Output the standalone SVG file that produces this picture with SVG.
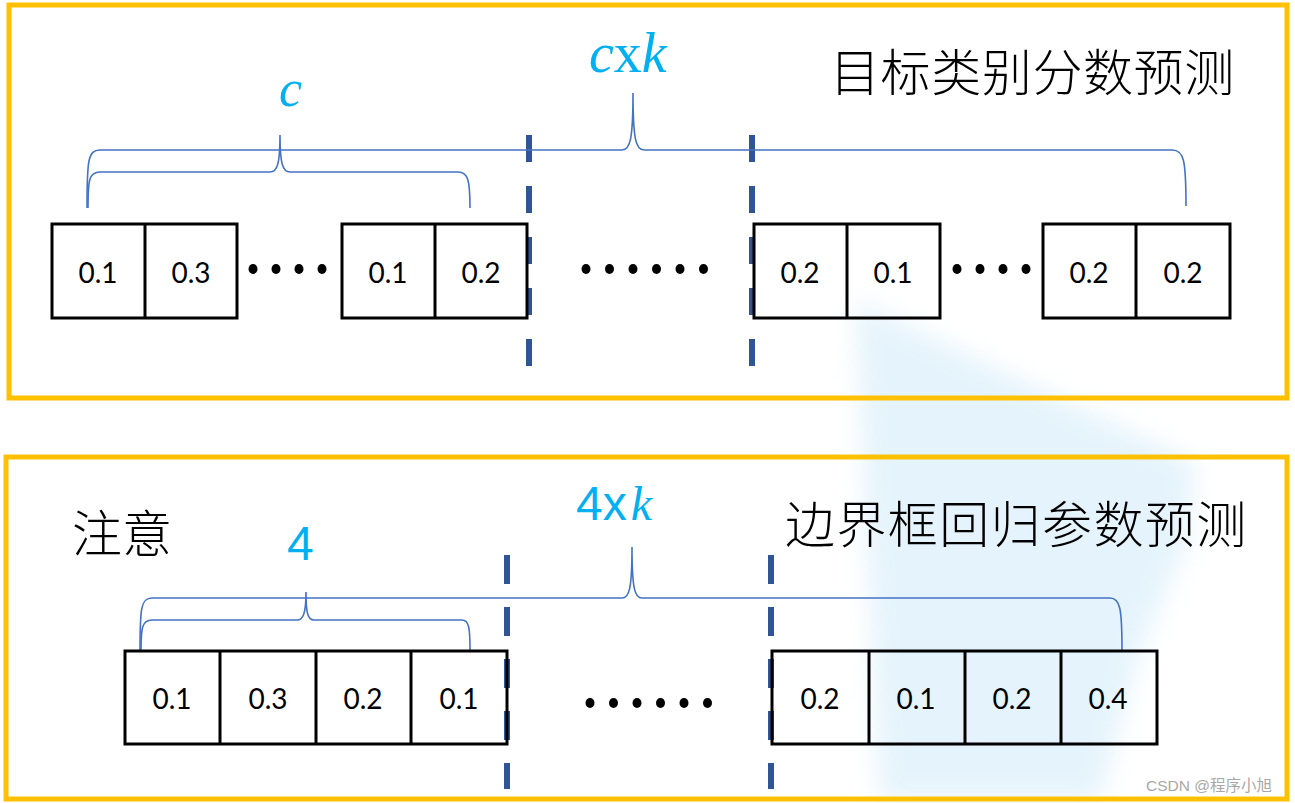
<svg xmlns="http://www.w3.org/2000/svg" width="1295" height="803" viewBox="0 0 1295 803">
<style>
.frame{fill:none;stroke:#FFC000;stroke-width:5}
.cell{fill:none;stroke:#000;stroke-width:3}
.num{font-family:Lato,"Liberation Sans",sans-serif;font-size:28px;fill:#000;text-anchor:middle}
.dot{fill:#000}
.dash{stroke:#2F5597;stroke-width:6;fill:none}
.brace{fill:none;stroke:#4472C4;stroke-width:1.6}
.zh{font-family:"Noto Sans CJK SC",sans-serif;font-size:50px;font-weight:300;fill:#000}
.mi{font-family:"Liberation Serif",serif;font-style:italic;fill:#00B0F0}
.mu{font-family:"Liberation Sans",sans-serif;fill:#00B0F0}
</style>
<defs><filter id="soft" x="-20%" y="-20%" width="140%" height="140%"><feGaussianBlur stdDeviation="12"/></filter></defs>
<rect width="1295" height="803" fill="#fff"/>
<polygon points="855,300 1010,375 1195,462 1188,540 1140,650 1100,800 880,800 868,560" fill="#DDF0FB" opacity="0.75" filter="url(#soft)"/>

<g id="frame-top"><rect class="frame" x="9" y="5" width="1278" height="393"/></g>
<g id="frame-bottom"><rect class="frame" x="6" y="457" width="1281" height="342"/></g>

<g id="title-top"><text class="zh" x="830" y="91" letter-spacing="0.6">目标类别分数预测</text></g>
<g id="title-bottom"><text class="zh" x="785" y="543" letter-spacing="1.4">边界框回归参数预测</text></g>
<g id="note"><text class="zh" x="72" y="552" font-size="49">注意</text></g>

<g id="label-c"><text class="mi" x="279" y="106" font-size="52">c</text></g>
<g id="label-cxk"><text x="589" y="72" font-size="56"><tspan class="mi">c</tspan><tspan font-family="Liberation Serif,serif" fill="#00B0F0">x</tspan><tspan class="mi">k</tspan></text></g>
<g id="label-4"><text class="mu" x="287" y="560" font-size="48">4</text></g>
<g id="label-4xk"><text x="576" y="520" font-size="48"><tspan class="mu">4</tspan><tspan class="mu">x</tspan><tspan class="mi" dx="4">k</tspan></text></g>

<g id="connectors">
<line class="dash" x1="529" y1="135" x2="529" y2="368" stroke-dasharray="27 24"/>
<line class="dash" x1="752" y1="135" x2="752" y2="368" stroke-dasharray="27 24"/>
<line class="dash" x1="507" y1="555" x2="507" y2="789" stroke-dasharray="29 23"/>
<line class="dash" x1="771" y1="555" x2="771" y2="789" stroke-dasharray="29 23"/>
<path class="brace" d="M87 208 C87 160 88 150 100 150 L622 150 C630 150 633 140 633 93 C633 140 636 150 644 150 L1172 150 C1184 150 1186 160 1186 206"/>
<path class="brace" d="M88 208 C88 180 89 172 100 172 L270 172 C277 172 280 165 280 135 C280 165 283 172 290 172 L458 172 C468 172 470 180 470 208"/>
<path class="brace" d="M140 650 C140 608 141 598 152 598 L622 598 C629 598 632 590 632 547 C632 590 635 598 642 598 L1110 598 C1120 598 1122 608 1122 650"/>
<path class="brace" d="M141 650 C141 628 142 620 152 620 L297 620 C303 620 306 614 306 592 C306 614 308 620 314 620 L462 620 C469 620 470 628 470 650"/>
</g>

<g id="top-group-1">
<rect class="cell" x="52" y="224" width="185" height="94"/><line class="cell" x1="145" y1="224" x2="145" y2="318"/>
<text class="num" x="98" y="283">0.1</text><text class="num" x="191" y="283">0.3</text>
</g>
<g id="top-dots-1" class="dot"><ellipse cx="253" cy="269" rx="4.5" ry="5"/><ellipse cx="276" cy="269" rx="4.5" ry="5"/><ellipse cx="299" cy="269" rx="4.5" ry="5"/><ellipse cx="322" cy="269" rx="4.5" ry="5"/></g>
<g id="top-group-2">
<rect class="cell" x="342" y="224" width="185" height="94"/><line class="cell" x1="435" y1="224" x2="435" y2="318"/>
<text class="num" x="388" y="283">0.1</text><text class="num" x="481" y="283">0.2</text>
</g>
<g id="top-dots-mid" class="dot"><ellipse cx="586" cy="269" rx="4.5" ry="5"/><ellipse cx="609.5" cy="269" rx="4.5" ry="5"/><ellipse cx="633" cy="269" rx="4.5" ry="5"/><ellipse cx="656.5" cy="269" rx="4.5" ry="5"/><ellipse cx="680" cy="269" rx="4.5" ry="5"/><ellipse cx="703.5" cy="269" rx="4.5" ry="5"/></g>
<g id="top-group-3">
<rect class="cell" x="754" y="224" width="186" height="94"/><line class="cell" x1="847" y1="224" x2="847" y2="318"/>
<text class="num" x="800" y="283">0.2</text><text class="num" x="893" y="283">0.1</text>
</g>
<g id="top-dots-2" class="dot"><ellipse cx="957" cy="269" rx="4.5" ry="5"/><ellipse cx="980" cy="269" rx="4.5" ry="5"/><ellipse cx="1003" cy="269" rx="4.5" ry="5"/><ellipse cx="1026" cy="269" rx="4.5" ry="5"/></g>
<g id="top-group-4">
<rect class="cell" x="1043" y="224" width="187" height="94"/><line class="cell" x1="1136" y1="224" x2="1136" y2="318"/>
<text class="num" x="1089" y="283">0.2</text><text class="num" x="1183" y="283">0.2</text>
</g>

<g id="bottom-group-1">
<rect class="cell" x="125" y="651" width="382" height="93"/>
<line class="cell" x1="220" y1="651" x2="220" y2="744"/><line class="cell" x1="316" y1="651" x2="316" y2="744"/><line class="cell" x1="411" y1="651" x2="411" y2="744"/>
<text class="num" x="172" y="709">0.1</text><text class="num" x="268" y="709">0.3</text><text class="num" x="363" y="709">0.2</text><text class="num" x="459" y="709">0.1</text>
</g>
<g id="bottom-dots-mid" class="dot"><ellipse cx="590" cy="703" rx="4.5" ry="5"/><ellipse cx="613.5" cy="703" rx="4.5" ry="5"/><ellipse cx="637" cy="703" rx="4.5" ry="5"/><ellipse cx="660.5" cy="703" rx="4.5" ry="5"/><ellipse cx="684" cy="703" rx="4.5" ry="5"/><ellipse cx="707.5" cy="703" rx="4.5" ry="5"/></g>
<g id="bottom-group-2">
<rect class="cell" x="772" y="651" width="385" height="93"/>
<line class="cell" x1="869" y1="651" x2="869" y2="744"/><line class="cell" x1="965" y1="651" x2="965" y2="744"/><line class="cell" x1="1061" y1="651" x2="1061" y2="744"/>
<text class="num" x="820" y="709">0.2</text><text class="num" x="916" y="709">0.1</text><text class="num" x="1012" y="709">0.2</text><text class="num" x="1108" y="709">0.4</text>
</g>

<g id="watermark"><text x="1146" y="791" font-family="'Liberation Sans','Noto Sans CJK SC',sans-serif" font-size="15.5" fill="#A8A8A8">CSDN @程序小旭</text></g>
</svg>
